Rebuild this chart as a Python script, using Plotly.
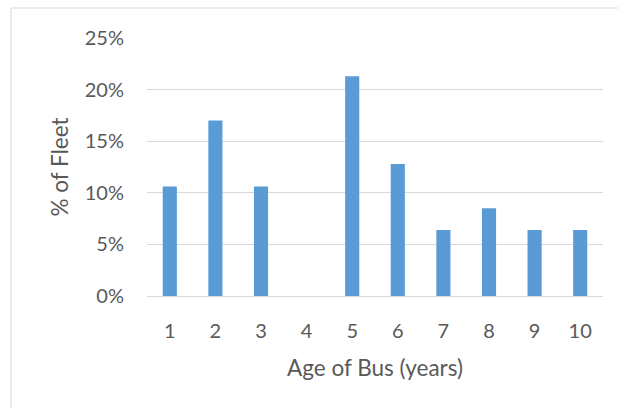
import plotly.graph_objects as go

ages = ["1", "2", "3", "4", "5", "6", "7", "8", "9", "10"]
pct_fleet = [0.106, 0.170, 0.106, 0.0, 0.213, 0.128, 0.064, 0.085, 0.064, 0.064]
y_ticks = [0, 0.05, 0.10, 0.15, 0.20, 0.25]
y_tick_labels = ["0%", "5%", "10%", "15%", "20%", "25%"]

W, H = 618, 408
L, R, T, B = 147, 15, 38, 112
pw, ph = W - L - R, H - T - B

def px_x(x):
    return (x - L) / pw

def px_y(y):
    return (H - B - y) / ph

font_family = "Lato, 'Open Sans', sans-serif"
text_col = "#595959"

fig = go.Figure(go.Bar(
    x=ages, y=pct_fleet,
    marker=dict(color="#5B9BD5", line=dict(width=0)),
    width=0.31,
))

fig.update_layout(
    width=W, height=H,
    margin=dict(l=L, r=R, t=T, b=B, pad=0),
    paper_bgcolor="white", plot_bgcolor="white",
    showlegend=False,
    font=dict(family=font_family, color=text_col, size=20),
    xaxis=dict(
        type="category",
        showgrid=False, showline=False, zeroline=False,
        ticks="", ticklen=0,
        tickfont=dict(size=20, color=text_col),
        ticklabelstandoff=21,
        title=dict(text="Age of Bus (years)", font=dict(size=22.5, color=text_col), standoff=19),
        automargin=False,
    ),
    yaxis=dict(
        range=[0, 0.25],
        tickvals=y_ticks, ticktext=y_tick_labels,
        showgrid=True, gridcolor="#d9d9d9", gridwidth=1,
        zeroline=True, zerolinecolor="#d9d9d9", zerolinewidth=1,
        showline=False, ticks="",
        tickfont=dict(size=20, color=text_col),
        ticklabelstandoff=22,
        title=dict(text="% of Fleet", font=dict(size=22.5, color=text_col), standoff=9),
        automargin=False,
    ),
    shapes=[dict(
        type="rect", xref="paper", yref="paper",
        x0=px_x(11), x1=px_x(625), y0=px_y(415), y1=px_y(8),
        line=dict(color="#d9d9d9", width=1), fillcolor="rgba(0,0,0,0)",
        layer="below",
    )],
)

fig.write_html("out.html", config={"displayModeBar": False},
               post_script="document.body.style.margin='0';")
